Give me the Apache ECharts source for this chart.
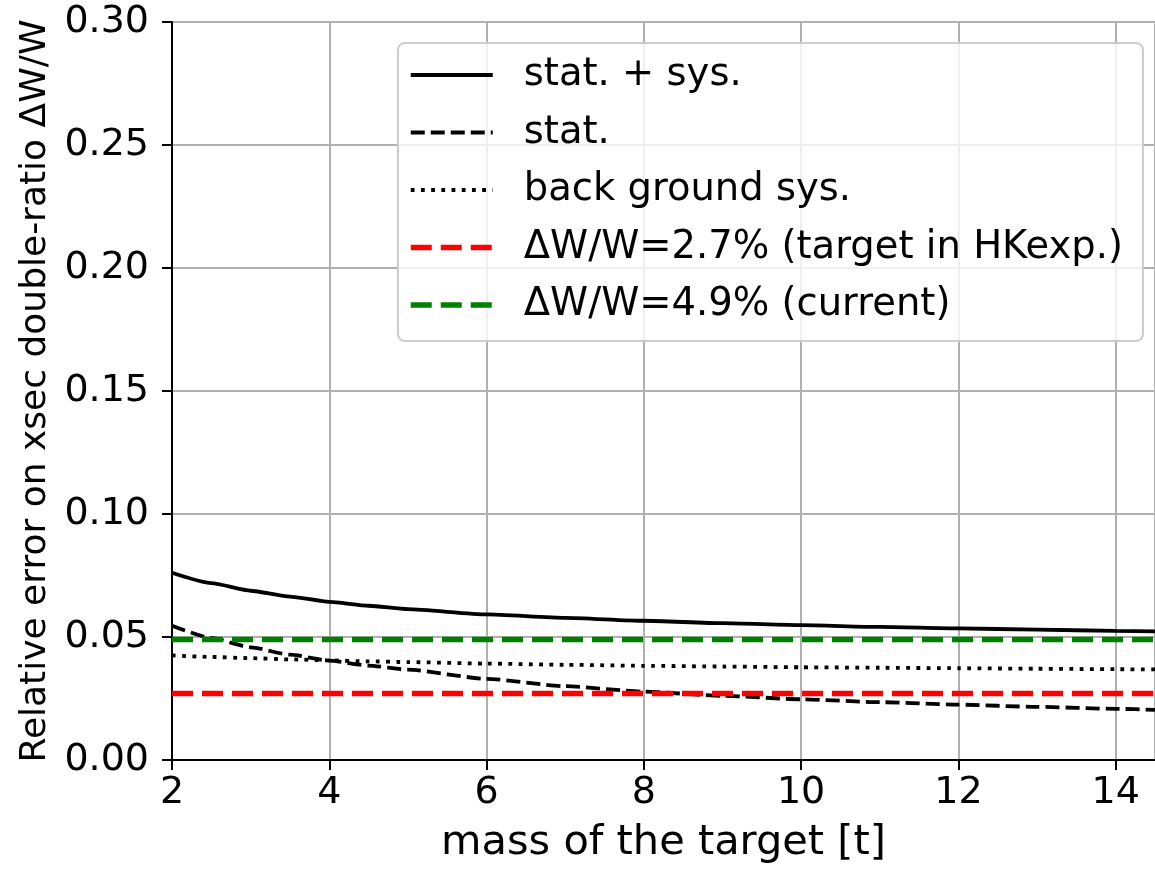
<!DOCTYPE html>
<html>
<head>
<meta charset="utf-8">
<title>Relative error vs target mass</title>
<script src="https://cdn.jsdelivr.net/npm/echarts@6/dist/echarts.min.js"></script>
<style>
  html, body { margin: 0; padding: 0; background: #fff; }
  #chart { width: 1155px; height: 869px; }
</style>
</head>
<body>
<div id="chart"></div>
<script>
// Target mass [t]
const mass = [2, 2.5, 3, 3.5, 4, 4.5, 5, 6, 7, 8, 9, 10, 11, 12, 13, 14, 14.5];
// Relative error on the cross-section double ratio
const statPlusSys = [0.0761, 0.0719, 0.0688, 0.0664, 0.0643, 0.0627, 0.0613, 0.0592, 0.0578, 0.0566, 0.0556, 0.0548, 0.0541, 0.0535, 0.0530, 0.0525, 0.0523];
const statOnly    = [0.0546, 0.0496, 0.0458, 0.0428, 0.0404, 0.0384, 0.0367, 0.0330, 0.0300, 0.0278, 0.0261, 0.0247, 0.0235, 0.0225, 0.0216, 0.0208, 0.0204];
const bkgSys      = [0.0425, 0.0419, 0.0414, 0.0409, 0.0405, 0.0401, 0.0398, 0.0392, 0.0387, 0.0383, 0.0380, 0.0377, 0.0375, 0.0373, 0.0371, 0.0369, 0.0368];
// Reference levels
const targetLevel = 0.027;
const currentLevel = 0.049;
const refSpan = [2, 14.5];

const names = ['stat. + sys.', 'stat.', 'back ground sys.', 'ΔW/W=2.7% (target in HKexp.)', 'ΔW/W=4.9% (current)'];
const widths = [3.8, 3.8, 3.8, 5.5, 5.5];

const FONT = 'DejaVu Sans';
const pairs = (xs, ys) => xs.map((x, i) => [x, ys[i]]);

const chart = echarts.init(document.getElementById('chart'), null, { renderer: 'canvas' });

chart.setOption({
  animation: false,
  backgroundColor: '#ffffff',
  grid: {
    left: 172, top: 22, right: -2, bottom: 106,
    show: true, borderColor: '#000', borderWidth: 2, backgroundColor: 'transparent'
  },
  xAxis: {
    type: 'value', min: 2, max: 14.5, interval: 2,
    name: 'mass of the target [t]', nameLocation: 'middle', nameGap: 62,
    nameTextStyle: { fontFamily: FONT, fontSize: 41.5, color: '#000' },
    axisLine: { show: true, lineStyle: { color: '#000', width: 2 } },
    axisTick: { show: true, length: 10, lineStyle: { color: '#000', width: 2 } },
    axisLabel: { fontFamily: FONT, fontSize: 38, color: '#000', margin: 14, showMaxLabel: false },
    splitLine: { show: true, lineStyle: { color: '#b0b0b0', width: 2 } }
  },
  yAxis: {
    type: 'value', min: 0, max: 0.3, interval: 0.05,
    name: 'Relative error on xsec double-ratio ΔW/W', nameLocation: 'middle', nameGap: 118,
    nameTextStyle: { fontFamily: FONT, fontSize: 36, color: '#000' },
    axisLine: { show: true, lineStyle: { color: '#000', width: 2 } },
    axisTick: { show: true, length: 10, lineStyle: { color: '#000', width: 2 } },
    axisLabel: { fontFamily: FONT, fontSize: 38, color: '#000', margin: 23, formatter: v => v.toFixed(2) },
    splitLine: { show: true, lineStyle: { color: '#b0b0b0', width: 2 } }
  },
  legend: {
    orient: 'vertical', left: 398, top: 43,
    padding: [10, 20, 14, 10],
    itemWidth: 82, itemHeight: 20, itemGap: 13.5,
    backgroundColor: 'rgba(255,255,255,0.8)',
    borderColor: '#cccccc', borderWidth: 2, borderRadius: 7,
    itemStyle: { opacity: 0 },
    textStyle: { fontFamily: FONT, fontSize: 38.5, color: '#000', lineHeight: 44, padding: [0, 0, 0, 26] },
    data: names.map((n, i) => ({ name: n, lineStyle: { width: widths[i] } }))
  },
  series: [
    {
      name: names[0], type: 'line', symbol: 'none', smooth: 0.2, smoothMonotone: 'x',
      data: pairs(mass, statPlusSys),
      lineStyle: { color: '#000', width: widths[0], type: 'solid' }, itemStyle: { color: '#000' }
    },
    {
      name: names[1], type: 'line', symbol: 'none', smooth: 0.2, smoothMonotone: 'x',
      data: pairs(mass, statOnly),
      lineStyle: { color: '#000', width: widths[1], type: [14, 6] }, itemStyle: { color: '#000' }
    },
    {
      name: names[2], type: 'line', symbol: 'none', smooth: 0.2, smoothMonotone: 'x',
      data: pairs(mass, bkgSys),
      lineStyle: { color: '#000', width: widths[2], type: [3.8, 6.4] }, itemStyle: { color: '#000' }
    },
    {
      name: names[3], type: 'line', symbol: 'none',
      data: refSpan.map(x => [x, targetLevel]),
      lineStyle: { color: '#ff0000', width: widths[3], type: [21, 9] }, itemStyle: { color: '#ff0000' }
    },
    {
      name: names[4], type: 'line', symbol: 'none',
      data: refSpan.map(x => [x, currentLevel]),
      lineStyle: { color: '#008000', width: widths[4], type: [21, 9] }, itemStyle: { color: '#008000' }
    }
  ]
});
</script>
</body>
</html>
